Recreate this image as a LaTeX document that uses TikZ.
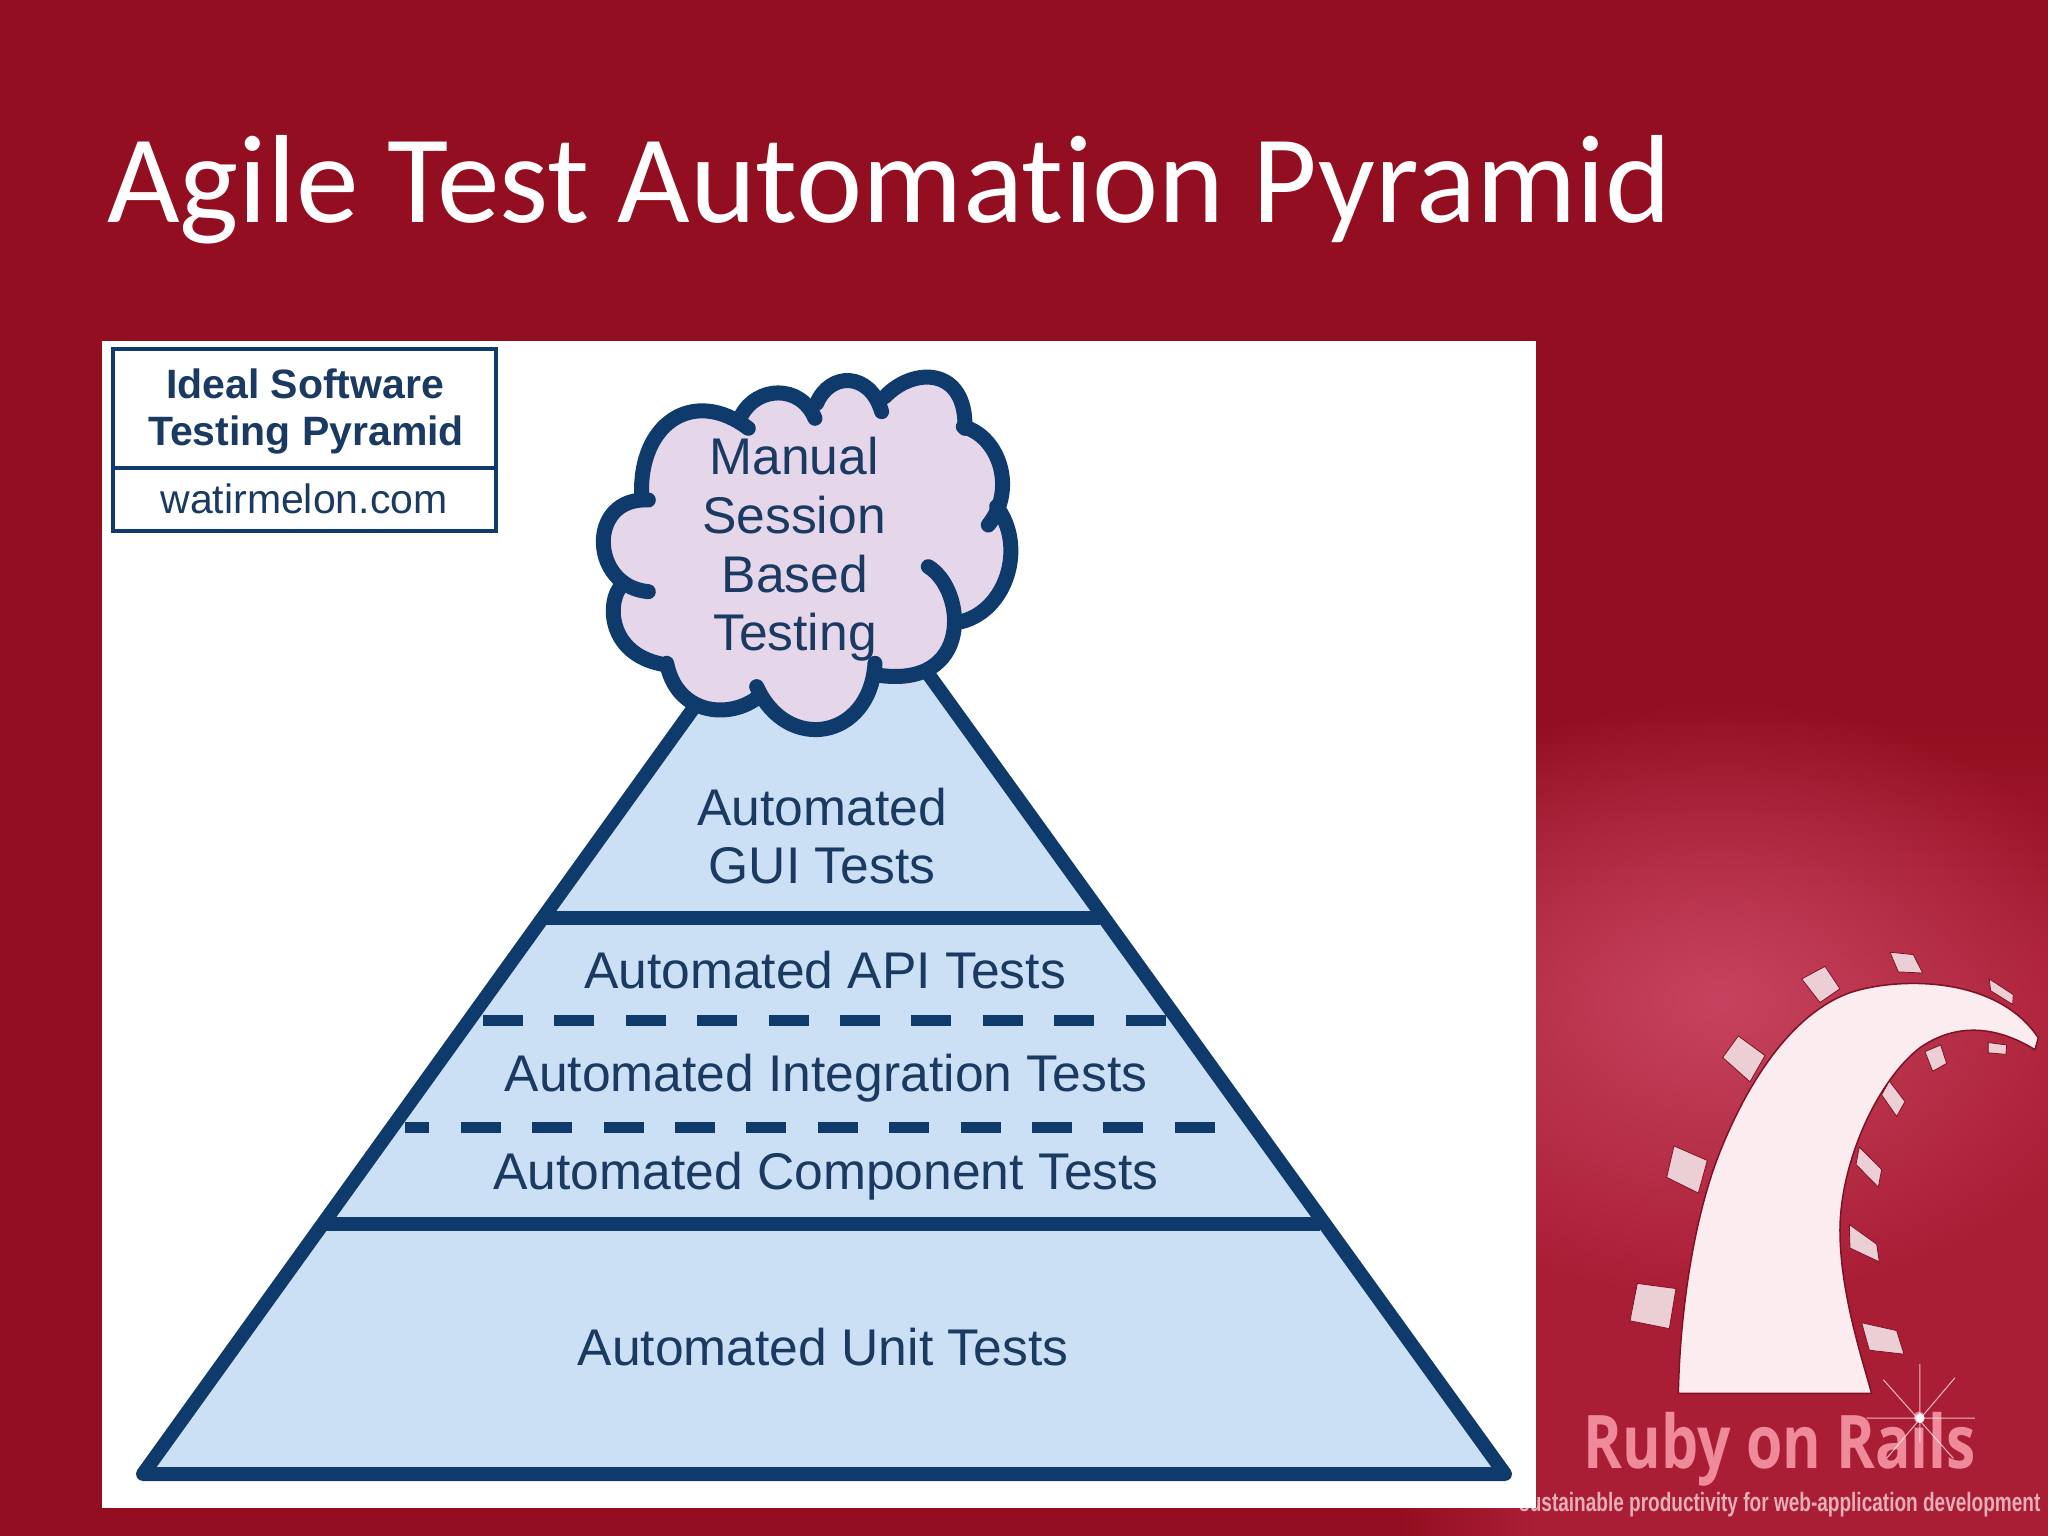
\documentclass[tikz,border=0pt]{standalone}
\usepackage{fontspec}
\usepackage{graphicx}
\usetikzlibrary{fadings}
\setmainfont{Liberation Sans}
\newfontfamily\titlefont[Ligatures=NoCommon]{Carlito}
\newfontfamily\rubyfont{Open Sans}
\definecolor{bgred}{HTML}{930E20}
\definecolor{navy}{HTML}{0F3B6C}
\definecolor{inktext}{HTML}{1B3A62}
\definecolor{pyrfill}{HTML}{CBE0F4}
\definecolor{cloudfill}{HTML}{E6D6EA}
\definecolor{lowred}{HTML}{AA1E35}
\definecolor{glowpink}{HTML}{C6435F}
\definecolor{railwhite}{HTML}{FBECEF}
\definecolor{railedge}{HTML}{7E1225}
\definecolor{tilefill}{HTML}{EBCFD5}
\definecolor{rubytext}{HTML}{EE8A9A}
\definecolor{tagtext}{HTML}{E6AEB8}
\tikzfading[name=glowfade,inner color=transparent!0,outer color=transparent!100]
\tikzset{
  lab/.style={anchor=base,inner sep=0pt,text=inktext,font=\fontsize{51.6}{60}\selectfont},
  legbold/.style={anchor=base,inner sep=0pt,text=inktext,font=\fontsize{41}{46}\selectfont\bfseries},
  legreg/.style={anchor=base,inner sep=0pt,text=inktext,font=\fontsize{41}{46}\selectfont},
  solidrule/.style={draw=navy,line width=14pt},
  dashrule/.style={draw=navy,line width=11pt,dash pattern=on 40pt off 31.4pt},
  lobe/.style={draw=navy,line width=15pt,line cap=round,line join=round},
  tile/.style={fill=tilefill,draw=railedge,line width=0.8pt},
}
\begin{document}
\begin{tikzpicture}[x=1pt,y=-1pt]
\useasboundingbox (0,0) rectangle (2048,1536);
% background
\fill[bgred] (0,0) rectangle (2048,1536);
\begin{scope}
  \clip (1536,700) rectangle (2048,1536);
  \shade[top color=bgred,bottom color=lowred] (1536,717) rectangle (2048,1000);
  \fill[lowred] (1536,999) rectangle (2048,1536);
  \fill[glowpink,path fading=glowfade] (1720,1000) ellipse [x radius=420pt,y radius=300pt];
\end{scope}
\shade[left color=bgred,right color=lowred] (1400,1508) rectangle (1536.5,1536);
% logo
\begin{scope}[shift={(1530,920)},x=0.3333pt,y=-0.3929pt]
  \path[fill=railwhite,draw=railedge,line width=1.5pt] (445,1205)
    .. controls (450,1000) and (490,760) .. (570,590)
    .. controls (650,420) and (780,240) .. (960,185)
    .. controls (1100,145) and (1400,140) .. (1525,300)
    -- (1515,330)
    .. controls (1400,270) and (1280,260) .. (1170,325)
    .. controls (1040,410) and (930,620) .. (930,790)
    .. controls (930,940) and (990,1100) .. (1025,1205) -- cycle;
  \foreach \a/\b/\c/\d in {
    {(815,150)}/{(885,118)}/{(930,175)}/{(870,210)},
    {(1080,82)}/{(1150,88)}/{(1178,135)}/{(1105,132)},
    {(1378,150)}/{(1450,190)}/{(1448,215)}/{(1382,180)},
    {(578,350)}/{(625,295)}/{(705,345)}/{(660,412)},
    {(432,575)}/{(532,612)}/{(505,695)}/{(410,655)},
    {(322,925)}/{(438,938)}/{(418,1040)}/{(300,1020)},
    {(1185,335)}/{(1232,318)}/{(1250,365)}/{(1208,385)},
    {(1375,312)}/{(1430,318)}/{(1428,342)}/{(1375,338)},
    {(1078,410)}/{(1125,462)}/{(1100,500)}/{(1055,445)},
    {(988,578)}/{(1055,635)}/{(1045,680)}/{(978,622)},
    {(958,775)}/{(1040,825)}/{(1048,870)}/{(960,835)},
    {(995,1025)}/{(1100,1045)}/{(1122,1105)}/{(1018,1095)}}{
    \path[tile] \a -- \b -- \c -- \d -- cycle;
  }
  \node[anchor=base,inner sep=0pt,text=rubytext] (ruby) at (750,1395)
    {\scalebox{0.795}[1]{\fontsize{74}{80}\rubyfont\bfseries Ruby on Rails}};
  \draw[white,opacity=.7,line width=1pt] (1170,1130) -- (1170,1330) (1060,1170) -- (1270,1370)
     (1275,1165) -- (1070,1370) (1010,1268) -- (1335,1268);
  \fill[white,opacity=.9] (1170,1268) ellipse [x radius=14,y radius=12];
\end{scope}
\node[anchor=base west,inner sep=0pt,text=tagtext] (tag) at (1519,1511)
  {\scalebox{0.718}[1]{\fontsize{26.5}{30}\selectfont\bfseries sustainable productivity for web-application development}};
% white panel
\fill[white] (102,341) rectangle (1536,1508);
% title
\node[anchor=base west,inner sep=0pt,text=white] (title) at (107,222)
  {\fontsize{125.4}{140}\titlefont Agile Test Automation Pyramid};
% legend
\draw[navy,line width=4.5pt] (113,349) rectangle (496,531);
\draw[navy,line width=4.5pt] (113,468) -- (496,468);
\node[legbold] (leg1) at (305,398) {Ideal Software};
\node[legbold] (leg2) at (306,445) {Testing Pyramid};
\node[legreg] (leg3) at (304,513) {watirmelon.com};
% pyramid
\path[fill=pyrfill,draw=navy,line width=14pt,line join=round] (823,528) -- (1505,1474) -- (143,1474) -- cycle;
\draw[solidrule] (545,918) -- (1100,918);
\draw[solidrule] (325,1224) -- (1320,1224);
\draw[dashrule] (483,1020) -- (1166,1020);
\draw[dashrule,dash phase=15.6pt] (405,1127) -- (1215,1127);
% cloud
\begin{scope}[shift={(560,340)},x=0.3333pt,y=-0.3333pt]
  \fill[cloudfill] (245,470)
    .. controls (235,250) and (400,140) .. (565,265) -- (545,225)
    .. controls (590,140) and (720,130) .. (765,235) -- (770,190)
    .. controls (810,95) and (930,95) .. (965,215) -- (975,170)
    .. controls (1060,80) and (1220,80) .. (1215,265) -- (1210,260)
    .. controls (1320,290) and (1370,450) .. (1285,555) -- (1310,500)
    .. controls (1400,620) and (1340,810) .. (1205,845)
    -- (1170,950) -- (1050,1040) -- (950,1005) -- (945,970)
    .. controls (930,1200) and (680,1240) .. (590,1040) -- (590,1075)
    .. controls (500,1140) and (350,1120) .. (320,970) -- (320,975)
    .. controls (150,950) and (140,800) .. (178,745) -- (265,755)
    .. controls (90,740) and (80,470) .. (265,480) -- cycle;
  \draw[lobe] (245,470) .. controls (235,250) and (400,140) .. (565,265);
  \draw[lobe] (545,225) .. controls (590,140) and (720,130) .. (765,235);
  \draw[lobe] (770,190) .. controls (810,95) and (930,95) .. (965,215);
  \draw[lobe] (975,170) .. controls (1060,80) and (1220,80) .. (1215,265);
  \draw[lobe] (1210,260) .. controls (1320,290) and (1370,450) .. (1285,555);
  \draw[lobe] (1310,500) .. controls (1400,620) and (1340,810) .. (1205,845);
  \draw[lobe] (1105,680) .. controls (1220,750) and (1240,1050) .. (950,1005);
  \draw[lobe] (945,970) .. controls (930,1200) and (680,1240) .. (590,1040);
  \draw[lobe] (590,1075) .. controls (500,1140) and (350,1120) .. (320,970);
  \draw[lobe] (320,975) .. controls (150,950) and (140,800) .. (178,745);
  \draw[lobe] (265,755) .. controls (90,740) and (80,470) .. (265,480);
\end{scope}
% labels
\node[lab] (m1) at (794,474) {Manual};
\node[lab] (m2) at (794,533) {Session};
\node[lab] (m3) at (795,592) {Based};
\node[lab] (m4) at (795,650) {Testing};
\node[lab] (g1) at (822,825) {Automated};
\node[lab] (g2) at (822,883) {GUI Tests};
\node[lab] (api) at (825,988) {Automated API Tests};
\node[lab] (int) at (826,1091) {Automated Integration Tests};
\node[lab] (cmp) at (826,1189) {Automated Component Tests};
\node[lab] (unit) at (823,1365) {Automated Unit Tests};
\end{tikzpicture}
\end{document}
